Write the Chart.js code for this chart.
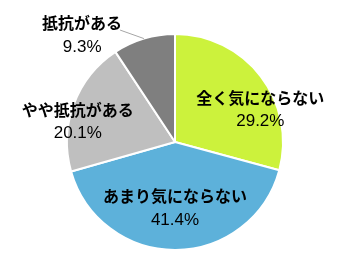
<!DOCTYPE html>
<html>
<head>
<meta charset="utf-8">
<script src="https://cdn.jsdelivr.net/npm/chart.js@4.4.0/dist/chart.umd.min.js"></script>
<style>
  html, body { margin: 0; padding: 0; background: #fff; }
  #wrap { width: 350px; height: 270px; }
</style>
</head>
<body>
<div id="wrap"><canvas id="pieChart"></canvas></div>
<script>
const categories = ['全く気にならない', 'あまり気にならない', 'やや抵抗がある', '抵抗がある'];
const shares = [29.2, 41.4, 20.1, 9.3];
const sliceColors = ['#CCF23C', '#5DB1DA', '#BFBFBF', '#7F7F7F'];

// label anchor, relative to pie centre in units of radius
const labelAnchors = [[0.79, -0.30], [0.0, 0.61], [-0.90, -0.19], [-0.86, -0.99]];

const labelPlugin = {
    id: 'sliceLabels',
    afterDatasetsDraw(chart) {
        const ctx = chart.ctx;
        const meta = chart.getDatasetMeta(0);
        meta.data.forEach((arc, i) => {
            const r = arc.outerRadius;
            const x = arc.x + labelAnchors[i][0] * r;
            const y = arc.y + labelAnchors[i][1] * r;

            // leader line for the small slice that is labelled outside
            if (i === 3) {
                const mid = (arc.startAngle + arc.endAngle) / 2;
                const ex = arc.x + Math.cos(mid) * r;
                const ey = arc.y + Math.sin(mid) * r;
                ctx.save();
                ctx.strokeStyle = '#A6A6A6';
                ctx.lineWidth = 1;
                ctx.beginPath();
                ctx.moveTo(x + 38, y - 5);
                ctx.lineTo(ex, ey);
                ctx.stroke();
                ctx.restore();
            }

            ctx.save();
            ctx.fillStyle = '#000';
            ctx.textAlign = 'center';
            ctx.textBaseline = 'middle';
            ctx.font = 'bold 16px "Noto Sans CJK JP"';
            ctx.fillText(categories[i], x, y - 12);
            ctx.font = '17px "Liberation Sans", Arial, sans-serif';
            ctx.fillText(shares[i].toFixed(1) + '%', x, y + 12);
            ctx.restore();
        });
    }
};

new Chart(document.getElementById('pieChart').getContext('2d'), {
    type: 'pie',
    data: {
        labels: categories,
        datasets: [{
            data: shares,
            backgroundColor: sliceColors,
            borderColor: '#FFFFFF',
            borderWidth: 2
        }]
    },
    options: {
        responsive: true,
        maintainAspectRatio: false,
        animation: false,
        layout: { padding: { top: 33, bottom: 19 } },
        plugins: {
            legend: { display: false },
            tooltip: { enabled: false }
        }
    },
    plugins: [labelPlugin]
});
</script>
</body>
</html>
